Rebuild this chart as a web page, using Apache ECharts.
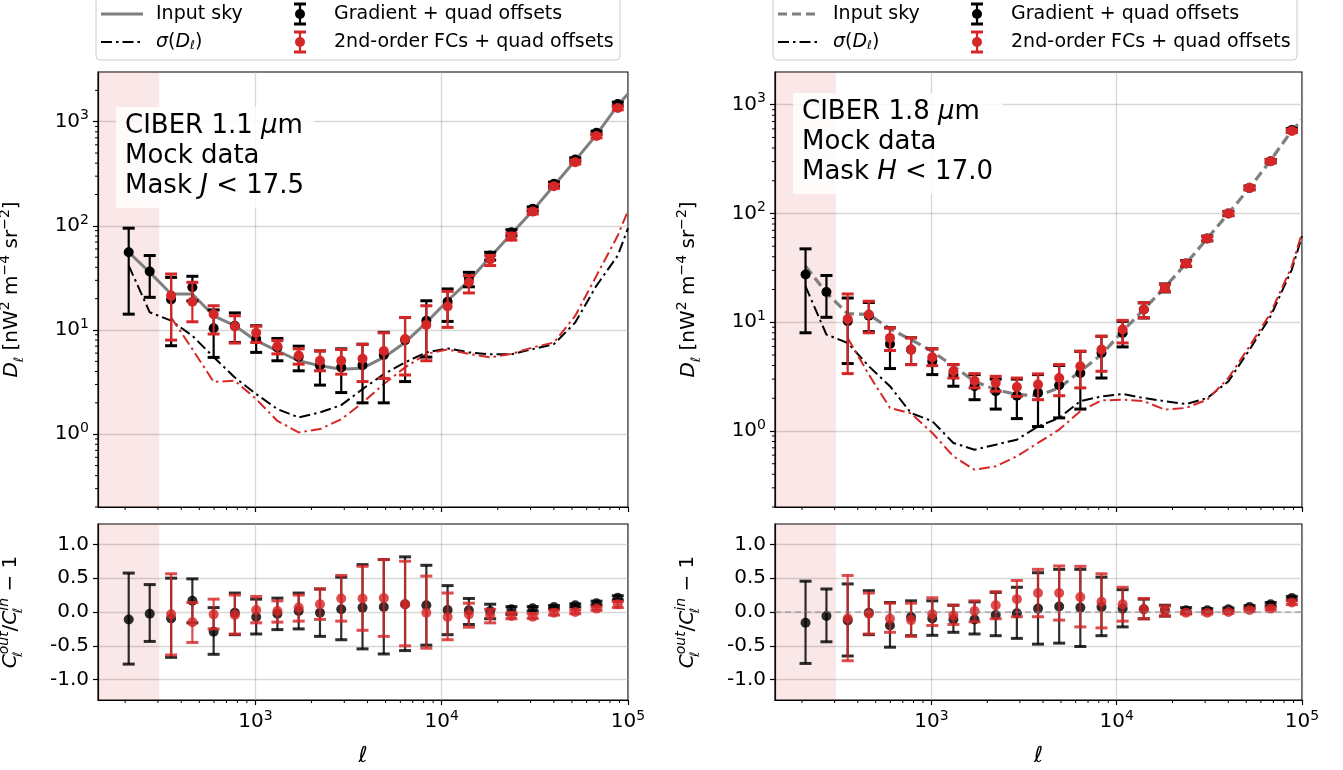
<!DOCTYPE html>
<html><head><meta charset="utf-8">
<script src="https://cdn.jsdelivr.net/npm/echarts@6/dist/echarts.min.js"></script>
<style>html,body{margin:0;padding:0;background:#fff}#c{width:1343px;height:770px}</style>
</head><body><div id="c"></div>
<script>
// ---------------- DATA ----------------
const ell = [209, 271, 353, 459, 597, 776, 1010, 1313, 1708, 2222, 2890, 3759, 4889, 6360, 8272, 10760, 13995, 18203, 23676, 30796, 40058, 52103, 67770, 88146];
const ellLine = [209, 271, 353, 459, 597, 776, 1010, 1313, 1708, 2222, 2890, 3759, 4889, 6360, 8272, 10760, 13995, 18203, 23676, 30796, 40058, 52103, 67770, 88146, 100000];
const xTicks = [1000, 10000, 100000];
const xMinorTicks = [200, 300, 400, 500, 600, 700, 800, 900, 2000, 3000, 4000, 5000, 6000, 7000, 8000, 9000, 20000, 30000, 40000, 50000, 60000, 70000, 80000, 90000];
const yTicksTop = [1, 10, 100, 1000];
const yMinorTop = [0.2, 0.3, 0.4, 0.5, 0.6, 0.7, 0.8, 0.9, 2, 3, 4, 5, 6, 7, 8, 9, 20, 30, 40, 50, 60, 70, 80, 90, 200, 300, 400, 500, 600, 700, 800, 900, 2000];
const yTicksRatio = [-1, -0.5, 0, 0.5, 1];
const shadeEnd = 305;

// ----- Left: CIBER 1.1 um, J < 17.5 -----
const skyJ = [55.8, 35.8, 22.2, 22.2, 13.7, 11.0, 7.9, 6.3, 5.07, 4.54, 4.2, 4.3, 5.46, 7.6, 11.8, 19.1, 29.8, 50, 83.8, 140, 244, 425, 750, 1436, 1850];
const sigGradJ = [41.6, 14.8, 12.3, 8.8, 5.5, 3.5, 2.43, 1.74, 1.45, 1.62, 1.9, 2.71, 3.77, 4.89, 6.1, 6.66, 6.1, 5.84, 5.84, 6.56, 7.33, 11.8, 26.7, 51.9, 95];
const sigFcJ = [13.2, 6.56, 3.18, 3.26, 2.17, 1.34, 1.04, 1.12, 1.39, 2.0, 3.03, 4.38, 5.9, 6.5, 5.9, 5.46, 5.9, 6.8, 7.6, 13.7, 33.3, 80.7, 140]; // from bin 2
const gradJ    = [55.8, 36.4, 19.6, 25.7, 10.4, 11.0, 8.2, 6.8, 5.5, 4.54, 4.38, 4.6, 5.75, 8.0, 12.3, 18.7, 31, 51.9, 86.9, 145.7, 253, 434, 784, 1479];
const gradJLo  = [14.2, 20.6, 7.07, 19, 5.46, 7.6, 6.1, 5.07, 4.06, 2.96, 2.51, 2.0, 2.0, 3.2, 5.5, 12.1, 26, 47, 80, 139, 243, 418, 757, 1420];
const gradJHi  = [95, 51.9, 32, 32.8, 15.6, 14.6, 11.0, 8.3, 7.0, 6.3, 6.6, 7.3, 9.5, 13.2, 19.1, 24.8, 35.8, 55.8, 92, 152, 263, 450, 811, 1540];
const fcJ      = [21.4, 18.7, 14.2, 10.8, 9.4, 7.0, 5.7, 5.07, 5.07, 5.3, 6.3, 8.2, 11.2, 16.8, 28.7, 47.5, 78.9, 137, 240, 409, 728, 1352];
const fcJLo    = [8.0, 12.0, 9.16, 7.5, 7.6, 5.9, 4.7, 4.06, 3.77, 3.2, 3.43, 3.7, 5.07, 10.6, 22.7, 41.6, 73, 130, 229, 392, 700, 1300];
const fcJHi    = [34.5, 28.7, 17.1, 13.7, 10.9, 7.9, 6.6, 6.3, 6.5, 7.3, 9.4, 13.2, 17.1, 23.5, 33.3, 52, 85, 144, 251, 426, 756, 1405];
const rGradJ   = [-0.11, -0.025, -0.095, 0.165, -0.29, -0.01, -0.075, -0.025, 0.015, -0.01, 0.04, 0.065, 0.075, 0.115, 0.1, 0.03, 0.025, 0.015, 0.04, 0.055, 0.075, 0.1, 0.13, 0.21];
const rGradJLo = [-0.77, -0.435, -0.67, -0.16, -0.625, -0.335, -0.325, -0.26, -0.25, -0.36, -0.41, -0.545, -0.62, -0.57, -0.49, -0.335, -0.185, -0.1, -0.035, 0.015, 0.05, 0.075, 0.105, 0.18];
const rGradJHi = [0.575, 0.405, 0.5, 0.49, 0.065, 0.28, 0.19, 0.205, 0.28, 0.34, 0.515, 0.7, 0.775, 0.815, 0.69, 0.39, 0.2, 0.115, 0.08, 0.08, 0.095, 0.12, 0.16, 0.24];
const rFcJ     = [-0.035, -0.15, -0.035, -0.045, 0.03, 0.015, 0.065, 0.115, 0.2, 0.2, 0.205, 0.115, -0.01, -0.075, -0.035, -0.05, -0.06, -0.07, -0.01, 0.0, 0.05, 0.115];
const rFcJLo   = [-0.635, -0.45, -0.25, -0.325, -0.16, -0.15, -0.135, -0.11, -0.135, -0.27, -0.36, -0.5, -0.535, -0.41, -0.225, -0.16, -0.1, -0.095, -0.045, -0.025, 0.025, 0.065];
const rFcJHi   = [0.565, 0.14, 0.19, 0.25, 0.23, 0.165, 0.25, 0.34, 0.54, 0.675, 0.775, 0.75, 0.53, 0.28, 0.13, 0.04, -0.01, -0.025, 0.03, 0.03, 0.075, 0.155];

// ----- Right: CIBER 1.8 um, H < 17.0 -----
const skyH = [32.8, 18.6, 12.0, 11.8, 8.7, 6.9, 5.4, 3.94, 2.86, 2.4, 2.16, 2.11, 2.49, 3.54, 5.04, 8.26, 13.1, 21.0, 34.7, 58.9, 100, 172, 309, 580, 720];
const sigGradH = [21.4, 7.7, 6.45, 3.94, 2.58, 1.46, 1.23, 0.776, 0.673, 0.748, 0.832, 1.10, 1.32, 1.88, 2.08, 2.19, 2.01, 1.88, 1.77, 2.01, 2.86, 5.6, 11.4, 30.5, 61.8];
const sigFcH = [7.18, 3.3, 1.63, 1.45, 0.96, 0.585, 0.44, 0.473, 0.585, 0.776, 1.03, 1.52, 1.91, 1.94, 1.88, 1.57, 1.63, 1.94, 3.07, 6.01, 12.2, 32.8, 66.4]; // from bin 2
const gradH    = [27.5, 19.0, 10.2, 11.5, 6.32, 5.6, 4.38, 3.3, 2.58, 2.32, 2.11, 2.24, 2.63, 3.42, 5.22, 7.98, 13.1, 20.7, 34.7, 58.9, 100, 172, 303, 585];
const gradHLo  = [8.0, 11.1, 4.17, 8.2, 3.75, 4.08, 3.3, 2.58, 1.94, 1.59, 1.3, 1.1, 1.32, 1.59, 3.07, 5.93, 10.96, 19.0, 32.6, 56, 95.5, 165, 292, 564];
const gradHHi  = [47.3, 26.9, 16.7, 15.2, 8.9, 7.2, 5.7, 4.08, 3.3, 3.0, 3.0, 3.3, 4.0, 5.4, 7.43, 10.2, 15.1, 22.5, 36.9, 62, 104.5, 179, 314, 606];
const fcH      = [10.7, 11.8, 7.18, 5.6, 4.76, 3.54, 2.9, 2.77, 2.54, 2.67, 3.07, 3.94, 5.6, 8.56, 13.1, 20.7, 34.7, 58.9, 100, 172, 303, 574];
const fcHLo    = [3.37, 8.0, 5.49, 4.08, 3.99, 3.07, 2.49, 2.32, 2.08, 1.94, 2.11, 2.49, 3.54, 6.45, 10.96, 19.2, 32.8, 56.3, 96, 166, 293, 555];
const fcHHi    = [18.2, 15.6, 8.87, 7.18, 5.69, 4.08, 3.37, 3.18, 3.07, 3.35, 4.08, 5.41, 7.43, 10.4, 15.1, 22.3, 36.6, 61.5, 104, 178, 313, 593];
const rGradH   = [-0.16, -0.06, -0.125, -0.01, -0.2, -0.075, -0.095, -0.11, -0.11, -0.045, -0.02, 0.05, 0.08, 0.065, 0.075, 0.05, 0.04, 0.03, 0.025, 0.025, 0.04, 0.075, 0.115, 0.205];
const rGradHLo = [-0.76, -0.44, -0.65, -0.335, -0.52, -0.35, -0.345, -0.3, -0.325, -0.35, -0.39, -0.475, -0.46, -0.51, -0.35, -0.22, -0.1, -0.06, -0.02, 0.0, 0.02, 0.055, 0.09, 0.18];
const rGradHHi = [0.455, 0.34, 0.415, 0.315, 0.14, 0.165, 0.165, 0.1, 0.15, 0.29, 0.365, 0.58, 0.63, 0.63, 0.515, 0.33, 0.19, 0.1, 0.065, 0.05, 0.06, 0.095, 0.14, 0.23];
const rFcH     = [-0.095, -0.025, -0.1, -0.12, -0.035, -0.05, 0.015, 0.1, 0.19, 0.28, 0.28, 0.22, 0.15, 0.115, 0.04, 0.015, -0.01, -0.01, 0.0, 0.03, 0.05, 0.14];
const rFcHLo   = [-0.72, -0.325, -0.3, -0.36, -0.2, -0.185, -0.145, -0.1, -0.07, -0.07, -0.12, -0.22, -0.235, -0.135, -0.1, -0.06, -0.03, -0.03, -0.02, 0.01, 0.03, 0.11];
const rFcHHi   = [0.54, 0.28, 0.13, 0.13, 0.21, 0.1, 0.165, 0.3, 0.465, 0.63, 0.68, 0.675, 0.565, 0.365, 0.2, 0.09, 0.01, 0.01, 0.02, 0.05, 0.07, 0.17];

// ---------------- CHART ----------------
const FONT = 'DejaVu Sans';
const RED = '#d62728';
const GRAY = '#7f7f7f';
const X_MIN = 143, X_MAX = 100000;

const chart = echarts.init(document.getElementById('c'), null, {renderer: 'canvas'});

const pairs = (xs, ys) => ys.map((v, i) => [xs[i], v]);
const ebData = (xs, c, lo, hi) => c.map((v, i) => [xs[i], v, lo[i], hi[i]]);

function ebRender(color, opacity, capW, r) {
  return function (params, api) {
    const x = api.value(0);
    const c = api.coord([x, api.value(1)]);
    const a = api.coord([x, api.value(2)]);
    const b = api.coord([x, api.value(3)]);
    return {type: 'group', children: [
      {type: 'line', shape: {x1: c[0], y1: a[1], x2: c[0], y2: b[1]}, style: {stroke: color, lineWidth: 2.2, opacity}},
      {type: 'line', shape: {x1: c[0] - capW, y1: a[1], x2: c[0] + capW, y2: a[1]}, style: {stroke: color, lineWidth: 3, opacity}},
      {type: 'line', shape: {x1: c[0] - capW, y1: b[1], x2: c[0] + capW, y2: b[1]}, style: {stroke: color, lineWidth: 3, opacity}},
      {type: 'circle', shape: {cx: c[0], cy: c[1], r}, style: {fill: color, opacity}}
    ]};
  };
}
function ebSeries(idx, data, color, opacity, z) {
  return {type: 'custom', xAxisIndex: idx, yAxisIndex: idx, data, clip: true, silent: true, z,
    encode: {x: 0, y: 1}, renderItem: ebRender(color, opacity, 6, 5)};
}
function minorX(idx, yRef) {
  return {type: 'custom', xAxisIndex: idx, yAxisIndex: idx, silent: true, z: 10, clip: false,
    data: xMinorTicks.map(v => [v, yRef]), encode: {x: 0, y: 1},
    renderItem: (params, api) => {
      const p = api.coord([api.value(0), yRef]);
      const bottom = params.coordSys.y + params.coordSys.height;
      return {type: 'line', shape: {x1: p[0], y1: bottom, x2: p[0], y2: bottom + 3}, style: {stroke: '#000', lineWidth: 1}};
    }};
}
function minorY(idx, vals) {
  return {type: 'custom', xAxisIndex: idx, yAxisIndex: idx, silent: true, z: 10, clip: false,
    data: vals.map(v => [1000, v]), encode: {x: 0, y: 1},
    renderItem: (params, api) => {
      const p = api.coord([1000, api.value(1)]);
      const left = params.coordSys.x;
      return {type: 'line', shape: {x1: left - 3, y1: p[1], x2: left, y2: p[1]}, style: {stroke: '#000', lineWidth: 1}};
    }};
}
const shadeArea = {silent: true, itemStyle: {color: 'rgba(214,39,40,0.11)'}, data: [[{xAxis: X_MIN}, {xAxis: shadeEnd}]]};

const grids = [
  {left: 98, top: 72, width: 530, height: 435},
  {left: 98, top: 524, width: 530, height: 176},
  {left: 775, top: 72, width: 527, height: 435},
  {left: 775, top: 524, width: 527, height: 176}
].map(g => Object.assign({show: true, borderColor: '#000', borderWidth: 1.2, backgroundColor: 'transparent', containLabel: false, outerBoundsMode: 'none'}, g));

const supRich = {
  sup: {fontSize: 14, fontFamily: FONT, color: '#000', verticalAlign: 'top', lineHeight: 12}
};
function powLabel(v) {
  const e = Math.round(Math.log10(v));
  return '10{sup|' + e + '}';
}
function xAxis(idx, showLabel) {
  return {type: 'log', logBase: 10, gridIndex: idx, min: X_MIN, max: X_MAX,
    axisLine: {show: true, onZero: false, lineStyle: {color: '#000', width: 1.2}},
    axisTick: {show: true, length: 5, lineStyle: {color: '#000', width: 1.2}, customValues: xTicks},
    axisLabel: {show: showLabel, customValues: xTicks, formatter: powLabel, fontFamily: FONT, fontSize: 20, color: '#000', margin: 9, lineHeight: 26, rich: supRich},
    splitLine: {show: true, lineStyle: {color: 'rgba(176,176,176,0.5)', width: 1.3}},
    name: showLabel ? 'ℓ' : '', nameLocation: 'middle', nameGap: 45,
    nameTextStyle: {fontFamily: FONT, fontSize: 22, fontStyle: 'italic', color: '#000'}
  };
}
const dRich = {
  i: {fontStyle: 'italic', fontSize: 20, fontFamily: FONT, color: '#000', lineHeight: 28},
  sub: {fontStyle: 'italic', fontSize: 13, fontFamily: FONT, color: '#000', verticalAlign: 'bottom', lineHeight: 12},
  subz: {fontStyle: 'italic', fontSize: 13, fontFamily: FONT, color: '#000', verticalAlign: 'bottom', lineHeight: 12, width: 0},
  sup: {fontSize: 14, fontFamily: FONT, color: '#000', verticalAlign: 'top', lineHeight: 12},
  supi: {fontSize: 14, fontStyle: 'italic', fontFamily: FONT, color: '#000', verticalAlign: 'top', lineHeight: 12},
  li: {fontStyle: 'italic', fontSize: 19, fontFamily: FONT, color: '#000'},
  lsub: {fontStyle: 'italic', fontSize: 12, fontFamily: FONT, color: '#000', verticalAlign: 'bottom', lineHeight: 12}
};
function yAxisTop(idx, max) {
  return {type: 'log', logBase: 10, gridIndex: idx, min: 0.2, max,
    axisLine: {show: true, onZero: false, lineStyle: {color: '#000', width: 1.2}},
    axisTick: {show: true, length: 5, lineStyle: {color: '#000', width: 1.2}, customValues: yTicksTop},
    axisLabel: {show: true, customValues: yTicksTop, formatter: powLabel, fontFamily: FONT, fontSize: 20, color: '#000', margin: 9, lineHeight: 26, rich: supRich},
    splitLine: {show: true, lineStyle: {color: 'rgba(176,176,176,0.5)', width: 1.3}},
    name: '{i|D}{sub|ℓ} [nW{sup|2} m{sup|−4} sr{sup|−2}]', nameLocation: 'middle', nameGap: 72, nameMoveOverlap: false,
    nameTextStyle: {fontFamily: FONT, fontSize: 20, color: '#000', lineHeight: 28, rich: dRich}
  };
}
function yAxisRatio(idx) {
  return {type: 'value', gridIndex: idx, min: -1.3, max: 1.3,
    axisLine: {show: true, onZero: false, lineStyle: {color: '#000', width: 1.2}},
    axisTick: {show: true, length: 5, lineStyle: {color: '#000', width: 1.2}, customValues: yTicksRatio},
    axisLabel: {show: true, customValues: yTicksRatio, formatter: v => v.toFixed(1), fontFamily: FONT, fontSize: 20, color: '#000', margin: 9},
    splitLine: {show: true, lineStyle: {color: 'rgba(176,176,176,0.5)', width: 1.3}},
    name: '{i|C}{subz|ℓ}{supi|out}/{i|C}{subz|ℓ}{supi|in} − 1', nameLocation: 'middle', nameGap: 73, nameMoveOverlap: false,
    nameTextStyle: {fontFamily: FONT, fontSize: 20, color: '#000', lineHeight: 28, rich: dRich}
  };
}

const lineS = (idx, xs, ys, color, type, width, z) => ({
  type: 'line', xAxisIndex: idx, yAxisIndex: idx, data: pairs(xs, ys), symbol: 'none', silent: true, clip: true, z,
  lineStyle: {color, width, type}, animation: false
});
const DASHDOT = [11, 4, 2.5, 4];
const ellLine2 = ellLine.slice(2);
const ell2 = ell.slice(2);

const series = [
  // top-left
  Object.assign(lineS(0, ellLine, skyJ, GRAY, 'solid', 3, 2), {markArea: shadeArea}),
  lineS(0, ellLine, sigGradJ, '#000', DASHDOT, 2, 2),
  lineS(0, ellLine2, sigFcJ, RED, DASHDOT, 2, 2),
  ebSeries(0, ebData(ell, gradJ, gradJLo, gradJHi), '#000', 1, 3),
  ebSeries(0, ebData(ell2, fcJ, fcJLo, fcJHi), RED, 1, 4),
  // bottom-left
  {type: 'line', xAxisIndex: 1, yAxisIndex: 1, data: [[X_MIN, 0]], symbol: 'none', silent: true, markArea: shadeArea, lineStyle: {width: 0}},
  ebSeries(1, ebData(ell, rGradJ, rGradJLo, rGradJHi), '#000', 0.82, 3),
  ebSeries(1, ebData(ell2, rFcJ, rFcJLo, rFcJHi), RED, 0.82, 4),
  // top-right
  Object.assign(lineS(2, ellLine, skyH, GRAY, [10, 5], 3.2, 2), {markArea: shadeArea}),
  lineS(2, ellLine, sigGradH, '#000', DASHDOT, 2, 2),
  lineS(2, ellLine2, sigFcH, RED, DASHDOT, 2, 2),
  ebSeries(2, ebData(ell, gradH, gradHLo, gradHHi), '#000', 1, 3),
  ebSeries(2, ebData(ell2, fcH, fcHLo, fcHHi), RED, 1, 4),
  // bottom-right
  {type: 'line', xAxisIndex: 3, yAxisIndex: 3, data: [[X_MIN, 0]], symbol: 'none', silent: true, markArea: shadeArea, lineStyle: {width: 0},
    markLine: {silent: true, symbol: 'none', label: {show: false}, lineStyle: {color: 'rgba(128,128,128,0.45)', width: 2, type: [6, 4]}, data: [{yAxis: 0}]}},
  ebSeries(3, ebData(ell, rGradH, rGradHLo, rGradHHi), '#000', 0.82, 3),
  ebSeries(3, ebData(ell2, rFcH, rFcHLo, rFcHHi), RED, 0.82, 4),
  // minor ticks
  minorX(0, 1), minorX(1, 0), minorX(2, 1), minorX(3, 0),
  minorY(0, yMinorTop), minorY(2, yMinorTop.filter(v => v < 2000))
];

// legends & annotations (graphic)
function legendGroup(dx, skyDash) {
  const t = (x, y, text) => ({type: 'text', x: x + dx, y, style: {text, fontFamily: FONT, fontSize: 19, fill: '#000', verticalAlign: 'middle', rich: dRich}});
  const eb = (x, y, color) => [
    {type: 'line', shape: {x1: x + dx, y1: y - 10, x2: x + dx, y2: y + 10}, style: {stroke: color, lineWidth: 2.2}},
    {type: 'line', shape: {x1: x + dx - 6, y1: y - 10, x2: x + dx + 6, y2: y - 10}, style: {stroke: color, lineWidth: 3}},
    {type: 'line', shape: {x1: x + dx - 6, y1: y + 10, x2: x + dx + 6, y2: y + 10}, style: {stroke: color, lineWidth: 3}},
    {type: 'circle', shape: {cx: x + dx, cy: y, r: 5}, style: {fill: color}}
  ];
  return [
    {type: 'rect', shape: {x: 96 + dx, y: -8, width: 524, height: 68, r: 4}, style: {fill: 'rgba(255,255,255,0.8)', stroke: '#cccccc', lineWidth: 1}},
    {type: 'line', shape: {x1: 101 + dx, y1: 14, x2: 143 + dx, y2: 14}, style: {stroke: GRAY, lineWidth: 3, lineDash: skyDash}},
    t(156, 14, 'Input sky'),
    {type: 'line', shape: {x1: 101 + dx, y1: 42, x2: 143 + dx, y2: 42}, style: {stroke: '#000', lineWidth: 2, lineDash: DASHDOT}},
    t(156, 42, '{li|σ}({li|D}{lsub|ℓ})'),
    ...eb(300, 14, '#000'),
    t(334, 14, 'Gradient + quad offsets'),
    ...eb(300, 42, RED),
    t(334, 42, '2nd-order FCs + quad offsets')
  ];
}

const boxRich = {
  i: {fontStyle: 'italic', fontSize: 26, fontFamily: FONT, color: '#000', lineHeight: 30}
};
function annot(x, y, text) {
  return {type: 'text', x, y, z: 50, style: {text, fontFamily: FONT, fontSize: 26, lineHeight: 30, fill: '#000', rich: boxRich,
    backgroundColor: 'rgba(255,255,255,0.82)', padding: [4, 10, 7, 9]}};
}

const option = {
  animation: false,
  backgroundColor: '#fff',
  grid: grids,
  xAxis: [xAxis(0, false), xAxis(1, true), xAxis(2, false), xAxis(3, true)],
  yAxis: [yAxisTop(0, 3000), yAxisRatio(1), yAxisTop(2, 2000), yAxisRatio(3)],
  series,
  graphic: [
    ...legendGroup(0, null),
    ...legendGroup(677, [9, 5]),
    annot(116, 107, 'CIBER 1.1 {i|μ}m\nMock data\nMask {i|J} < 17.5'),
    annot(793, 93, 'CIBER 1.8 {i|μ}m\nMock data\nMask {i|H} < 17.0')
  ]
};
chart.setOption(option);
</script>
</body></html>
